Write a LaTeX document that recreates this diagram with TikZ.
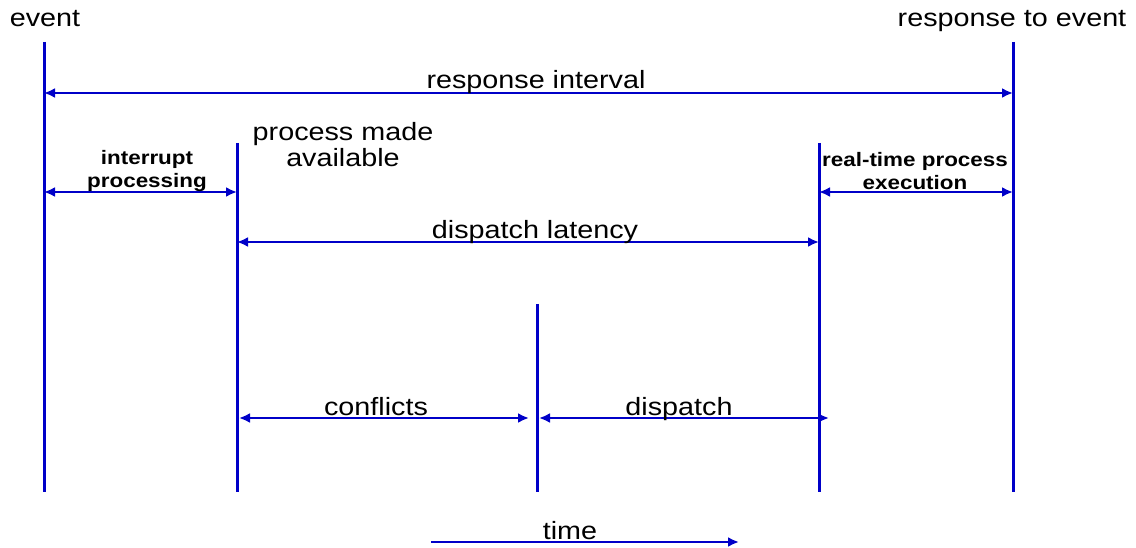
\documentclass[tikz,border=0pt]{standalone}
\usepackage{fontspec}
\setmainfont{Liberation Sans}[FakeStretch=1.15]
\usetikzlibrary{arrows.meta}
\definecolor{lineblue}{RGB}{0,0,200}
\begin{document}
\begin{tikzpicture}[x=1pt,y=-1pt,
  vline/.style={draw=lineblue,line width=3pt},
  span/.style={draw=lineblue,line width=2.6pt,{Latex[length=11pt,width=10pt]}-{Latex[length=11pt,width=10pt]}},
  fwd/.style={draw=lineblue,line width=2.6pt,-{Latex[length=11pt,width=10pt]}},
  big/.style={inner sep=0pt,anchor=base,font=\fontsize{25}{26}\selectfont},
  small/.style={inner sep=0pt,align=center,font=\fontsize{19.5}{23}\selectfont\bfseries}]
\useasboundingbox (0,0) rectangle (1136,548);
% vertical line endpoints
\coordinate (evT) at (44,42);   \coordinate (evB) at (44,492);
\coordinate (paT) at (237,143); \coordinate (paB) at (237,492);
\coordinate (mdT) at (537,304); \coordinate (mdB) at (537,492);
\coordinate (rtT) at (819,143); \coordinate (rtB) at (819,492);
\coordinate (reT) at (1013,42); \coordinate (reB) at (1013,492);
\draw[vline] (evT) -- (evB);
\draw[vline] (paT) -- (paB);
\draw[vline] (mdT) -- (mdB);
\draw[vline] (rtT) -- (rtB);
\draw[vline] (reT) -- (reB);
% arrow endpoints
\coordinate (riL) at (44,93);  \coordinate (riR) at (1013,93);
\coordinate (ipL) at (44,192); \coordinate (ipR) at (237,192);
\coordinate (rpL) at (819,192); \coordinate (rpR) at (1013,192);
\coordinate (dlL) at (237,242); \coordinate (dlR) at (819,242);
\coordinate (cfL) at (239,418); \coordinate (cfR) at (529,418);
\coordinate (dsL) at (539,418); \coordinate (dsR) at (829,418);
\coordinate (tmL) at (431,542); \coordinate (tmR) at (739,542);
\draw[span] (riL) -- (riR);
\draw[span] (ipL) -- (ipR);
\draw[span] (rpL) -- (rpR);
\draw[span] (dlL) -- (dlR);
\draw[span] (cfL) -- (cfR);
\draw[span] (dsL) -- (dsR);
\draw[fwd] (tmL) -- (tmR);
% labels
\node[big] (event) at (45,27) {event};
\node[big] (resp) at (1012,27) {response to event};
\node[big] (rint) at (536,89) {response interval};
\node[big,align=center,anchor=center] (pma) at (343,145) {process made\\available};
\node[small] (intp) at (147,171) {interrupt\\processing};
\node[small] (rtpe) at (915,171) {real-time process\\execution};
\node[big] (dlat) at (535,239) {dispatch latency};
\node[big] (conf) at (376,415) {conflicts};
\node[big] (disp) at (679,415) {dispatch};
\node[big] (time) at (570,539) {time};
\end{tikzpicture}
\end{document}
